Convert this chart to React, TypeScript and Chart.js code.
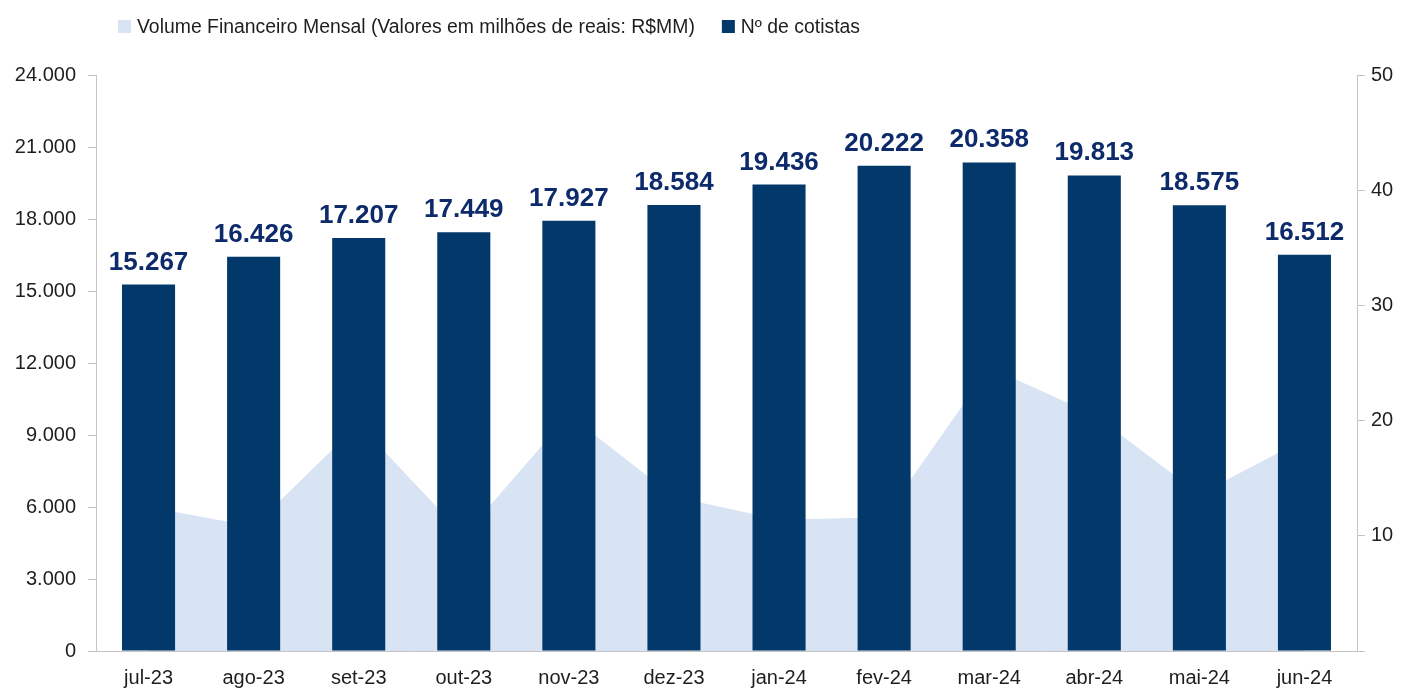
import React, { useEffect, useRef } from "react";
import { Chart, registerables } from "chart.js";

Chart.register(...registerables);

const categories = ["jul-23", "ago-23", "set-23", "out-23", "nov-23", "dez-23", "jan-24", "fev-24", "mar-24", "abr-24", "mai-24", "jun-24"];
const cotistas = [15267, 16426, 17207, 17449, 17927, 18584, 19436, 20222, 20358, 19813, 18575, 16512];
const volume = [12.5, 10.8, 19.7, 10.0, 20.5, 13.4, 11.4, 11.6, 24.6, 20.5, 13.6, 18.4];
const leftTicks = [0, 3000, 6000, 9000, 12000, 15000, 18000, 21000, 24000];
const rightTicks = [0, 10, 20, 30, 40, 50];
const seriesNames = ["Volume Financeiro Mensal (Valores em milhões de reais: R$MM)", "Nº de cotistas"];

const BAR = "#03386a";
const AREA = "#d8e3f4";
const LABEL = "#0d2b6b";
const TEXT = "#1e1e1e";
const AXIS = "#c4c4c4";
const FONT = "'Liberation Sans', Arial, sans-serif";

const fmt = (v: number) => String(Math.round(v)).replace(/\B(?=(\d{3})+(?!\d))/g, ".");

const labelsPlugin = {
  id: "barLabels",
  afterDatasetsDraw(chart: any) {
    const ctx = chart.ctx;
    const meta = chart.getDatasetMeta(1);
    ctx.save();
    ctx.font = `bold 26px ${FONT}`;
    ctx.fillStyle = LABEL;
    ctx.textAlign = "center";
    ctx.textBaseline = "alphabetic";
    meta.data.forEach((el: any, i: number) => {
      ctx.fillText(fmt(cotistas[i]), el.x, el.y - 15);
    });
    ctx.restore();
  },
};

const legendPlugin = {
  id: "customLegend",
  afterDraw(chart: any) {
    const ctx = chart.ctx;
    ctx.save();
    ctx.font = `19.4px ${FONT}`;
    ctx.textBaseline = "alphabetic";
    const colors = [AREA, BAR];
    let x = chart.chartArea.left + 22;
    const y = 33;
    seriesNames.forEach((name, i) => {
      ctx.fillStyle = colors[i];
      ctx.fillRect(x, y - 13, 13, 13);
      ctx.fillStyle = TEXT;
      ctx.textAlign = "left";
      ctx.fillText(name, x + 19, y);
      x += 19 + ctx.measureText(name).width + 27;
    });
    ctx.restore();
  },
};

export default function App() {
  const ref = useRef<HTMLCanvasElement | null>(null);
  useEffect(() => {
    if (!ref.current) return;
    const chart = new Chart(ref.current, {
      data: {
        labels: categories,
        datasets: [
          {
            type: "line",
            label: seriesNames[0],
            data: volume,
            yAxisID: "y1",
            fill: "origin",
            backgroundColor: AREA,
            borderWidth: 0,
            pointRadius: 0,
            tension: 0,
            order: 2,
          },
          {
            type: "bar",
            label: seriesNames[1],
            data: cotistas,
            yAxisID: "y",
            backgroundColor: BAR,
            borderWidth: 0,
            categoryPercentage: 1,
            barPercentage: 0.505,
            order: 1,
          },
        ],
      } as any,
      options: {
        responsive: false,
        animation: false,
        devicePixelRatio: 1,
        layout: { padding: { top: 75, left: 0, right: 0, bottom: 0 } },
        plugins: { legend: { display: false }, tooltip: { enabled: false } },
        scales: {
          x: {
            offset: true,
            grid: { display: false, drawTicks: false },
            border: { display: true, color: AXIS, width: 1 },
            ticks: { color: TEXT, font: { size: 20, family: FONT }, padding: 15, maxRotation: 0 },
            afterFit: (s: any) => { s.height = 38; },
          },
          y: {
            position: "left",
            min: 0,
            max: 24000,
            afterBuildTicks: (s: any) => { s.ticks = leftTicks.map((v) => ({ value: v })); },
            ticks: { color: TEXT, font: { size: 20, family: FONT }, padding: 12, callback: (v: any) => fmt(Number(v)) },
            grid: { drawOnChartArea: false, drawTicks: true, tickLength: 8, color: AXIS },
            border: { display: true, color: AXIS, width: 1 },
            afterFit: (s: any) => { s.width = 96; },
          },
          y1: {
            position: "right",
            min: 0,
            max: 50,
            afterBuildTicks: (s: any) => { s.ticks = rightTicks.map((v) => ({ value: v })); },
            ticks: { color: TEXT, font: { size: 20, family: FONT }, padding: 6, callback: (v: any) => (Number(v) === 0 ? "" : String(v)) },
            grid: { drawOnChartArea: false, drawTicks: true, tickLength: 8, color: AXIS },
            border: { display: true, color: AXIS, width: 1 },
            afterFit: (s: any) => { s.width = 48; },
          },
        },
      } as any,
      plugins: [labelsPlugin, legendPlugin],
    });
    return () => chart.destroy();
  }, []);
  return (
    <div style={{ position: "absolute", left: 0, top: 0, width: 1405, height: 689, background: "#fff" }}>
      <canvas ref={ref} width={1405} height={689} style={{ width: 1405, height: 689 }} />
    </div>
  );
}
